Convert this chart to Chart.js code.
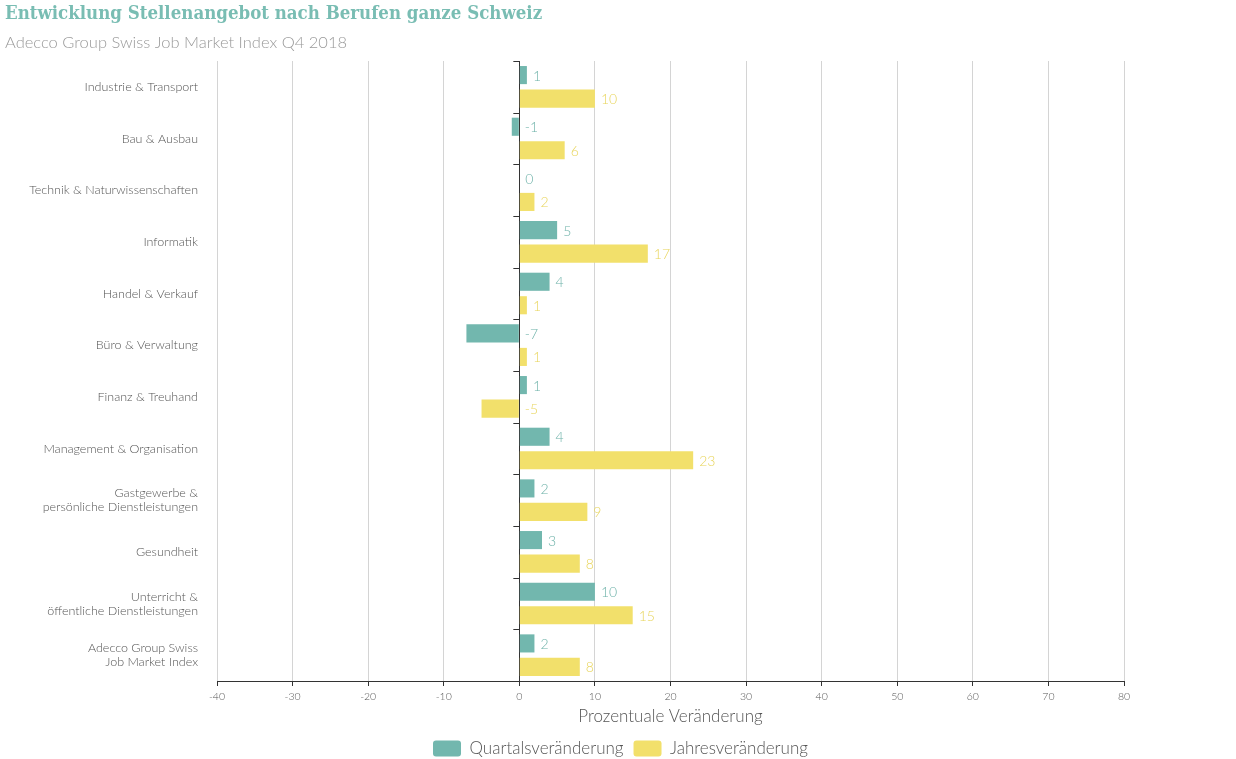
<!DOCTYPE html>
<html>
<head>
<meta charset="utf-8">
<script src="https://cdn.jsdelivr.net/npm/chart.js@4"></script>
<style>
  html, body { margin: 0; padding: 0; background: #fff; }
  #boite { width: 1236px; height: 759px; }
</style>
</head>
<body>
<div id="boite"><canvas id="graphe"></canvas></div>
<script>
// categories (axe y)
const berufe = [
  'Industrie & Transport',
  'Bau & Ausbau',
  'Technik & Naturwissenschaften',
  'Informatik',
  'Handel & Verkauf',
  'Büro & Verwaltung',
  'Finanz & Treuhand',
  'Management & Organisation',
  ['Gastgewerbe &', 'persönliche Dienstleistungen'],
  'Gesundheit',
  ['Unterricht &', 'öffentliche Dienstleistungen'],
  ['Adecco Group Swiss', 'Job Market Index']
];

// series
const quartal = [1, -1, 0, 5, 4, -7, 1, 4, 2, 3, 10, 2];
const jahr = [10, 6, 2, 17, 1, 1, -5, 23, 9, 8, 15, 8];

// axe x
const xMin = -40;
const xMax = 80;
const xPas = 10;

const COULEURS = {
  teal: '#72b7ae',
  teal_texte: '#6eb2a9',
  jaune: '#f2e06b',
  jaune_texte: '#e8d55c',
  titre: '#79bdb3',
  gris: '#9a9a9a',
  texte: '#555555',
  grille: '#d4d4d4',
  axe: '#333333'
};

/**
 * etiquettes de valeur a droite de la barre (ou du zero si negatif)
 */
const etiquettes = {
  id: 'etiquettes',
  afterDatasetsDraw(chart) {
    const ctx = chart.ctx;
    ctx.save();
    ctx.font = '300 14px Lato';
    ctx.textBaseline = 'middle';
    ctx.textAlign = 'left';
    chart.data.datasets.forEach((ds, i) => {
      const meta = chart.getDatasetMeta(i);
      ctx.fillStyle = ds.couleurTexte;
      meta.data.forEach((bar, j) => {
        const px = Math.max(bar.x, bar.base) + 6;
        ctx.fillText(String(ds.data[j]), px, bar.y + 1);
      });
    });
    ctx.restore();
  }
};

/**
 * petits traits de l'axe y sur la ligne du zero
 */
const traitsZero = {
  id: 'traitsZero',
  afterDatasetsDraw(chart) {
    const ctx = chart.ctx;
    const x0 = chart.scales.x.getPixelForValue(0);
    const y = chart.scales.y;
    ctx.save();
    ctx.strokeStyle = COULEURS.axe;
    ctx.lineWidth = 1;
    ctx.beginPath();
    for (let i = 0; i <= berufe.length; i++) {
      const py = Math.round(y.getPixelForValue(i - 0.5)) + 0.5;
      ctx.moveTo(x0 - 6, py);
      ctx.lineTo(x0, py);
    }
    ctx.stroke();
    ctx.restore();
  }
};

let data = {
  labels: berufe,
  datasets: [
    {
      label: 'Quartalsveränderung',
      data: quartal,
      backgroundColor: COULEURS.teal,
      couleurTexte: COULEURS.teal_texte,
      categoryPercentage: 0.91,
      barPercentage: 0.77
    },
    {
      label: 'Jahresveränderung',
      data: jahr,
      backgroundColor: COULEURS.jaune,
      couleurTexte: COULEURS.jaune_texte,
      categoryPercentage: 0.91,
      barPercentage: 0.77
    }
  ]
};

let options = {
  indexAxis: 'y',
  maintainAspectRatio: false,
  responsive: true,
  animation: false,
  layout: { padding: { left: 5, right: 0, top: 0, bottom: -8 } },
  scales: {
    x: {
      min: xMin,
      max: xMax,
      ticks: {
        stepSize: xPas,
        color: COULEURS.texte,
        font: { family: 'Lato', size: 10.5, weight: '300' },
        padding: 4
      },
      grid: {
        color: (c) => (c.tick && c.tick.value === 0 ? COULEURS.axe : COULEURS.grille),
        tickColor: COULEURS.axe,
        tickLength: 5
      },
      border: { display: true, color: COULEURS.axe },
      title: {
        display: true,
        text: 'Prozentuale Veränderung',
        color: COULEURS.texte,
        font: { family: 'Lato', size: 17, weight: '300' },
        padding: { top: 0, bottom: 3 }
      }
    },
    y: {
      grid: { display: false, drawTicks: false },
      border: { display: false },
      ticks: {
        color: COULEURS.texte,
        font: { family: 'Lato', size: 12.5, weight: '300', lineHeight: 1.12 },
        padding: 19
      },
      afterFit: (scale) => { scale.width = 212; }
    },
    // axe vide a droite pour garder la marge
    marge: {
      type: 'category',
      axis: 'y',
      position: 'right',
      grid: { display: false, drawTicks: false },
      border: { display: false },
      ticks: { display: false },
      afterFit: (scale) => { scale.width = 112; }
    }
  },
  plugins: {
    title: {
      display: true,
      text: 'Entwicklung Stellenangebot nach Berufen ganze Schweiz',
      align: 'start',
      color: COULEURS.titre,
      font: { family: "'DejaVu Serif Condensed', 'DejaVu Serif'", size: 18.5, weight: 'bold', lineHeight: 1.2 },
      padding: { top: 3, bottom: 8 }
    },
    subtitle: {
      display: true,
      text: 'Adecco Group Swiss Job Market Index Q4 2018',
      align: 'start',
      color: COULEURS.gris,
      font: { family: 'Lato', size: 16.5, weight: '300', lineHeight: 1.2 },
      padding: { top: 0, bottom: 8 }
    },
    legend: {
      position: 'bottom',
      labels: {
        color: COULEURS.texte,
        font: { family: 'Lato', size: 17, weight: '300' },
        boxWidth: 28,
        boxHeight: 16,
        useBorderRadius: true,
        borderRadius: 3,
        padding: 10
      }
    },
    tooltip: { enabled: false }
  }
};

function dessine(id, type, data, options) {
  let ctx = document.getElementById(id).getContext('2d');
  return new Chart(ctx, { type: type, data: data, options: options, plugins: [etiquettes, traitsZero] });
}

dessine('graphe', 'bar', data, options);
</script>
</body>
</html>
